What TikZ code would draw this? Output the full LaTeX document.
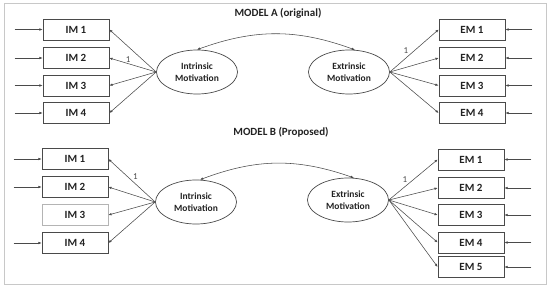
\documentclass[tikz,border=0pt]{standalone}
\usepackage{fontspec}
\setmainfont{Carlito}
\usetikzlibrary{arrows.meta,shapes.geometric}
\definecolor{ink}{HTML}{4A4A4A}
\definecolor{txt}{HTML}{222222}
\definecolor{frame}{HTML}{C8C8C8}
\definecolor{faint}{HTML}{B4B4B4}

\begin{document}
\begin{tikzpicture}[
  x=1pt, y=1pt, >={Latex[length=3.2pt, width=2.6pt]},
  box/.style={draw=ink, line width=0.7pt, minimum width=66pt, minimum height=21pt, inner sep=0pt, text=txt, font=\fontsize{11}{13}\selectfont\bfseries},
  lat/.style={draw=ink, ellipse, line width=0.7pt, minimum width=81pt, minimum height=44pt, inner sep=0pt, align=center, text=txt, font=\fontsize{9.5}{12}\selectfont\bfseries},
  e/.style={->, draw=ink, line width=0.55pt},
  cov/.style={<->, draw=ink, line width=0.55pt},
  ttl/.style={text=txt, font=\fontsize{11}{13}\selectfont\bfseries},
  one/.style={text=ink, inner sep=1pt, font=\fontsize{9}{10}\selectfont}
]
\useasboundingbox (0,0) rectangle (550,287);
\draw[frame, line width=0.8pt] (4,3) rectangle (546,284);

% model A
\node[ttl] (ta) at (278,274) {MODEL A (original)};
\node[box] (a-im1) at (76,257.5) {IM 1};
\node[box] (a-im2) at (76,229) {IM 2};
\node[box] (a-im3) at (76,201.5) {IM 3};
\node[box] (a-im4) at (76,174) {IM 4};
\node[lat] (a-in) at (197,215) {Intrinsic\\Motivation};
\node[lat] (a-ex) at (349,215) {Extrinsic\\Motivation};
\node[box] (a-em1) at (472,257.5) {EM 1};
\node[box] (a-em2) at (472,229) {EM 2};
\node[box] (a-em3) at (472,201.5) {EM 3};
\node[box] (a-em4) at (472,174) {EM 4};
\foreach \n in {1,...,4} {
  \coordinate (a-si\n) at ([xshift=-28pt]a-im\n.west);
  \coordinate (a-se\n) at ([xshift=27pt]a-em\n.east);
  \draw[e] (a-si\n) -- (a-im\n);
  \draw[e] (a-se\n) -- (a-em\n);
}
\draw[e] (a-in.west) -- (a-im1.east);
\draw[e] (a-in.west) -- (a-im2.east) node[one, pos=0.6, above] {1};
\draw[e] (a-in.west) -- (a-im3.east);
\draw[e] (a-in.west) -- (a-im4.east);
\draw[e] (a-ex.east) -- (a-em1.west) node[one, pos=0.4, above left] {1};
\draw[e] (a-ex.east) -- (a-em2.west);
\draw[e] (a-ex.east) -- (a-em3.west);
\draw[e] (a-ex.east) -- (a-em4.west);
\draw[cov] (a-in.north) to[bend left=20] (a-ex.75);

% model B
\node[ttl] (tb) at (281,155) {MODEL B (Proposed)};
\node[box] (b-im1) at (75,128) {IM 1};
\node[box] (b-im2) at (75,100) {IM 2};
\node[box, draw=faint] (b-im3) at (75,72) {IM 3};
\node[box] (b-im4) at (75,44) {IM 4};
\node[lat] (b-in) at (196,85) {Intrinsic\\Motivation};
\node[lat] (b-ex) at (348,87) {Extrinsic\\Motivation};
\node[box] (b-em1) at (471,127.5) {EM 1};
\node[box] (b-em2) at (471,99) {EM 2};
\node[box] (b-em3) at (471,72) {EM 3};
\node[box] (b-em4) at (471,44.5) {EM 4};
\node[box] (b-em5) at (471,20) {EM 5};
\foreach \n in {1,2,4} {
  \coordinate (b-si\n) at ([xshift=-28pt]b-im\n.west);
  \draw[e] (b-si\n) -- (b-im\n);
}
\foreach \n in {1,...,5} {
  \coordinate (b-se\n) at ([xshift=27pt]b-em\n.east);
  \draw[e] (b-se\n) -- (b-em\n);
}
\draw[e] (b-in.west) -- (b-im1.east) node[one, pos=0.5, above right] {1};
\draw[e] (b-in.west) -- (b-im2.east);
\draw[e] (b-in.west) -- (b-im3.east);
\draw[e] (b-in.west) -- (b-im4.east);
\draw[e] (b-ex.east) -- (b-em1.west) node[one, pos=0.4, above left] {1};
\draw[e] (b-ex.east) -- (b-em2.west);
\draw[e] (b-ex.east) -- (b-em3.west);
\draw[e] (b-ex.east) -- (b-em4.west);
\draw[e] (b-ex.east) -- (b-em5.west);
\draw[cov] (b-in.80) to[bend left=20] (b-ex.75);
\end{tikzpicture}
\end{document}
